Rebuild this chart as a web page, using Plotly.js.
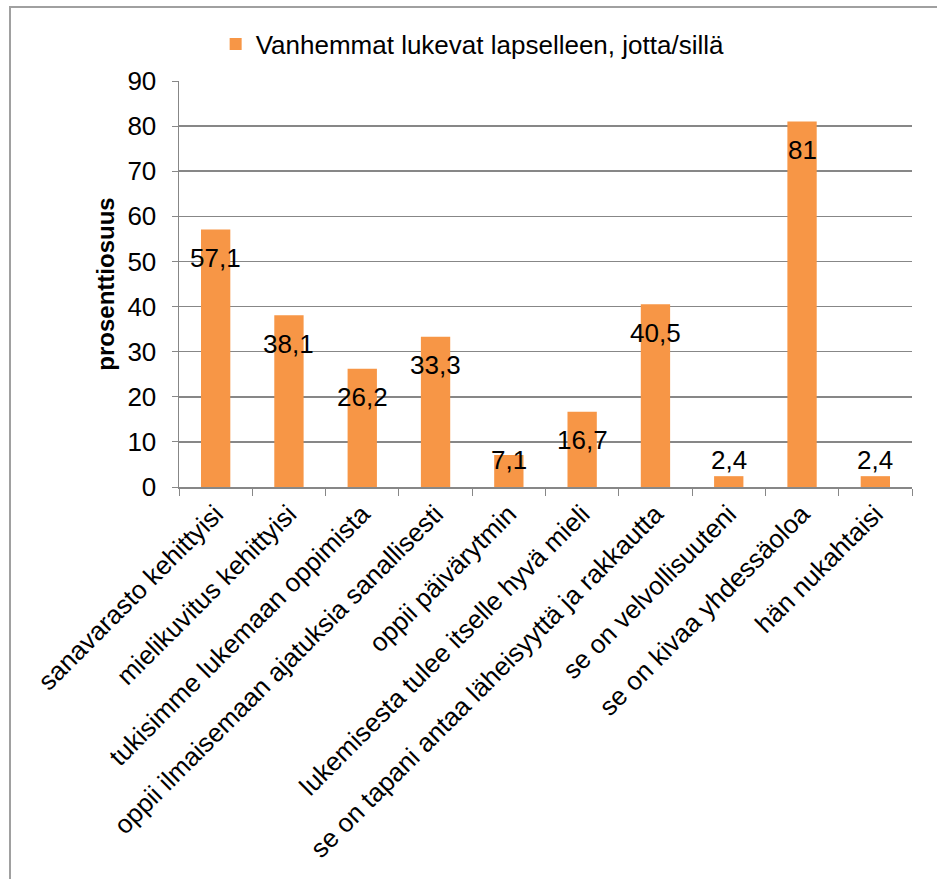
<!DOCTYPE html>
<html>
<head>
<meta charset="utf-8">
<script src="https://cdn.plot.ly/plotly-3.0.1.min.js"></script>
<style>
  html, body { margin: 0; padding: 0; background: #fff; }
  #wrap { position: relative; width: 937px; height: 879px; overflow: hidden; }
  #chart { position: absolute; left: 0; top: 0; width: 937px; height: 879px; }
  #frame { position: absolute; left: 9px; top: 6px; width: 1000px; height: 1000px;
           border: 2px solid #a0a0a0; pointer-events: none; box-sizing: border-box; }
</style>
</head>
<body>
<div id="wrap">
  <div id="chart"></div>
  <div id="frame"></div>
</div>
<script>
const categories = [
  "sanavarasto kehittyisi",
  "mielikuvitus kehittyisi",
  "tukisimme lukemaan oppimista",
  "oppii ilmaisemaan ajatuksia sanallisesti",
  "oppii päivärytmin",
  "lukemisesta tulee itselle hyvä mieli",
  "se on tapani antaa läheisyyttä ja rakkautta",
  "se on velvollisuuteni",
  "se on kivaa yhdessäoloa",
  "hän nukahtaisi"
];
const values = [57.1, 38.1, 26.2, 33.3, 7.1, 16.7, 40.5, 2.4, 81, 2.4];
const valueLabels = ["57,1", "38,1", "26,2", "33,3", "7,1", "16,7", "40,5", "2,4", "81", "2,4"];
const seriesName = "Vanhemmat lukevat lapselleen, jotta/sillä";
const yTicks = [0, 10, 20, 30, 40, 50, 60, 70, 80, 90];

const FONT = "Liberation Sans, Arial, sans-serif";
const FS = 26;
const GRID = "#878787";

const trace = {
  type: "bar",
  x: categories,
  y: values,
  name: seriesName,
  marker: { color: "#F79646" },
  showlegend: true,
  hoverinfo: "skip"
};

const annotations = values.map((v, i) => ({
  x: categories[i],
  y: Math.max(v - 6.3, 5.9),
  xref: "x", yref: "y",
  text: valueLabels[i],
  showarrow: false,
  xanchor: "center", yanchor: "middle",
  font: { family: FONT, size: FS, color: "#000" }
}));

const layout = {
  width: 937, height: 879,
  margin: { l: 179, r: 25, t: 81, b: 392 },
  paper_bgcolor: "#fff",
  plot_bgcolor: "#fff",
  font: { family: FONT, size: FS, color: "#000" },
  bargap: 0.6,
  showlegend: true,
  legend: {
    orientation: "h",
    x: 0.05, xanchor: "left",
    y: 1.091, yanchor: "middle",
    font: { family: FONT, size: FS, color: "#000" },
    bgcolor: "rgba(0,0,0,0)"
  },
  xaxis: {
    type: "category",
    tickangle: -45,
    ticks: "outside",
    tickson: "boundaries",
    ticklen: 7,
    tickcolor: GRID,
    showline: true,
    linecolor: GRID,
    linewidth: 1.5,
    showgrid: false,
    tickfont: { family: FONT, size: FS, color: "#000" },
    automargin: false
  },
  yaxis: {
    range: [0, 90],
    tickvals: yTicks,
    ticktext: yTicks.map(String),
    ticks: "outside",
    ticklen: 6,
    tickcolor: GRID,
    ticklabelstandoff: 10,
    showline: true,
    linecolor: GRID,
    linewidth: 1.5,
    showgrid: true,
    gridcolor: GRID,
    gridwidth: 1.5,
    zeroline: false,
    tickfont: { family: FONT, size: FS, color: "#000" },
    title: {
      text: "<b>prosenttiosuus</b>",
      font: { family: FONT, size: 24, color: "#000" },
      standoff: 6
    },
    automargin: false
  },
  annotations: annotations
};

Plotly.newPlot("chart", [trace], layout, { staticPlot: true, displayModeBar: false });
</script>
</body>
</html>
